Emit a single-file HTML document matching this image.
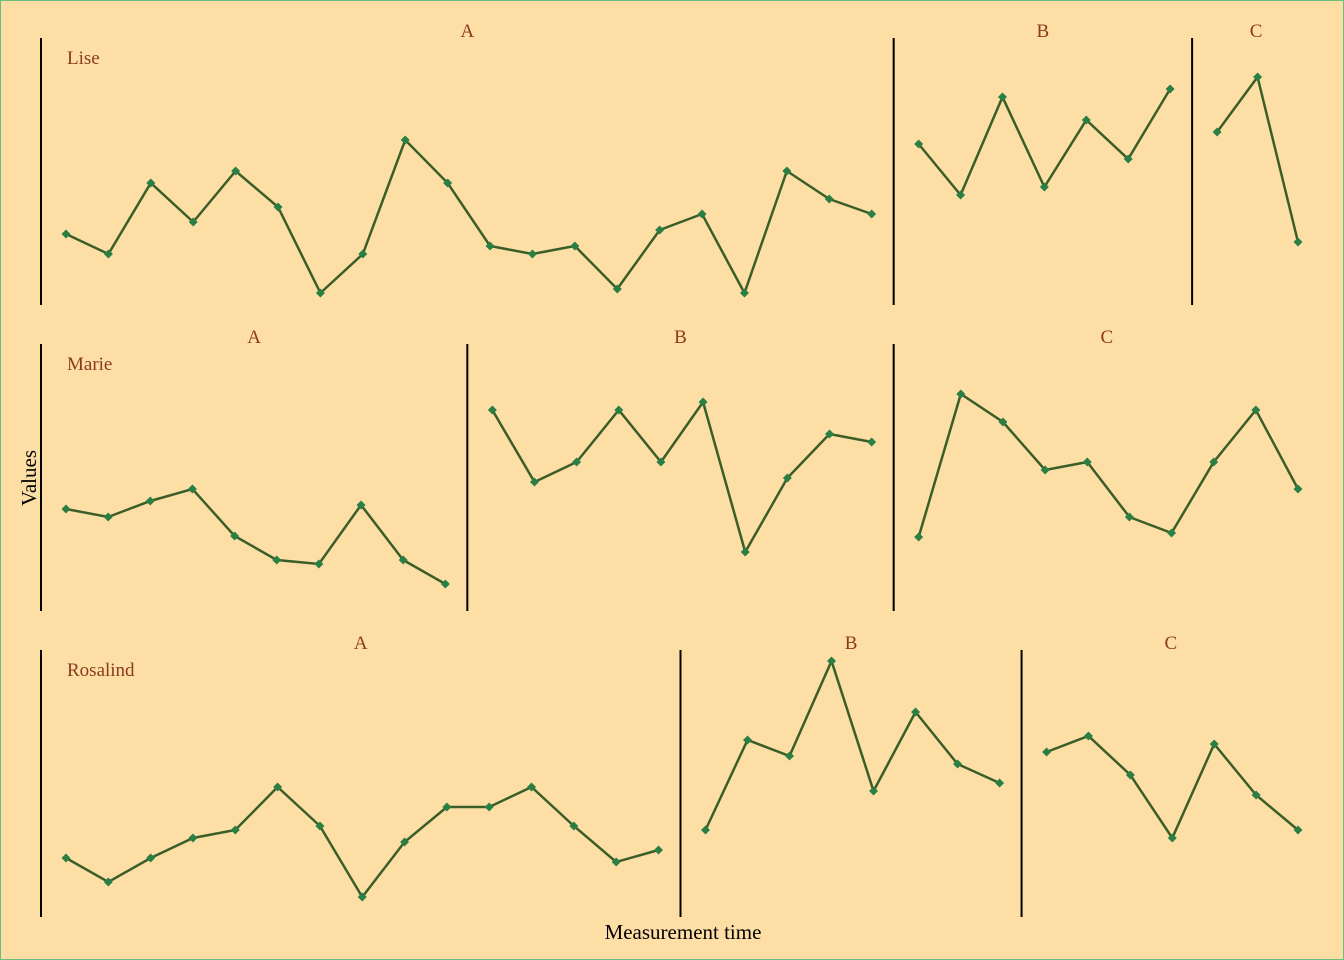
<!DOCTYPE html>
<html><head><meta charset="utf-8"><style>
html,body{margin:0;padding:0;background:#FDDFA6;}
svg{display:block;}
text{font-family:"Liberation Serif",serif;}
</style></head><body>
<svg id="chart" width="1344" height="960">
<rect x="0.5" y="0.5" width="1343" height="959" fill="#FDDFA6" stroke="#6dbb7f"/>
<text x="36" y="478" font-size="21" text-anchor="middle" transform="rotate(-90 36 478)">Values</text>
<text x="683" y="939" font-size="21" text-anchor="middle">Measurement time</text>
</svg>
<script>
const people = ["Lise","Marie","Rosalind"];
const groups = ["A","B","C"];
const liseA = [71,51,122,83,134,98,12,51,165,122,59,51,59,16,75,91,12,134,106,91];
const liseB = [161,110,208,118,185,146,216];
const liseC = [173,228,63];
const marieA = [102,94,110,122,75,51,47,106,51,27];
const marieB = [201,129,149,201,149,209,59,133,177,169];
const marieC = [74,217,189,141,149,94,78,149,201,122];
const rosA = [59,35,59,79,87,130,91,20,75,110,110,130,91,55,67];
const rosB = [87,177,161,256,126,205,153,134];
const rosC = [165,181,142,79,173,122,87];
const series = [[liseA,liseB,liseC],[marieA,marieB,marieC],[rosA,rosB,rosC]];

const svg = document.getElementById('chart');
const NS = 'http://www.w3.org/2000/svg';
const x0 = 41, xEnd = 1320, rowTop = [38,344,650], rowH = 267;
function mk(tag, attrs){const e=document.createElementNS(NS,tag);for(const k in attrs)e.setAttribute(k,attrs[k]);svg.appendChild(e);return e;}
function yScale(r,v){return rowTop[r]+rowH - v;}
series.forEach((row,r)=>{
  const total = row.reduce((a,v)=>a+v.length,0);
  const unit = (xEnd-x0)/total;
  let left = x0;
  const lab = mk('text',{x:67,y:rowTop[r]+26,'font-size':19,fill:'#8B3A1E'});
  lab.textContent = people[r];
  
  
  row.forEach((vals,g)=>{
    const w = vals.length*unit;
    const ax = mk('line',{x1:left,x2:left,y1:rowTop[r],y2:rowTop[r]+rowH,stroke:'#000','stroke-width':2});
    
    
    const st = mk('text',{x:left+w/2,y:rowTop[r]-1,'font-size':19,fill:'#8B3A1E','text-anchor':'middle'});
    st.textContent = groups[g];
    
    
    const a = left+25, b = left+w-22;
    const s = vals.length>1 ? (b-a)/(vals.length-1) : 0;
    const xs = vals.map((v,i)=>a+i*s);
    const pts = vals.map((v,i)=>xs[i]+','+yScale(r,v)).join(' ');
    const pl = mk('polyline',{points:pts,fill:'none',stroke:'#3b5e28','stroke-width':2.5});
    
    
    vals.forEach((v,i)=>{
      const cx=xs[i], cy=yScale(r,v), sz=4.5;
      const d = mk('polygon',{points:`${cx},${cy-sz} ${cx+sz},${cy} ${cx},${cy+sz} ${cx-sz},${cy}`,fill:'#2a7f45'});
      
      
    });
    left += w;
  });
});
</script>
</body></html>
